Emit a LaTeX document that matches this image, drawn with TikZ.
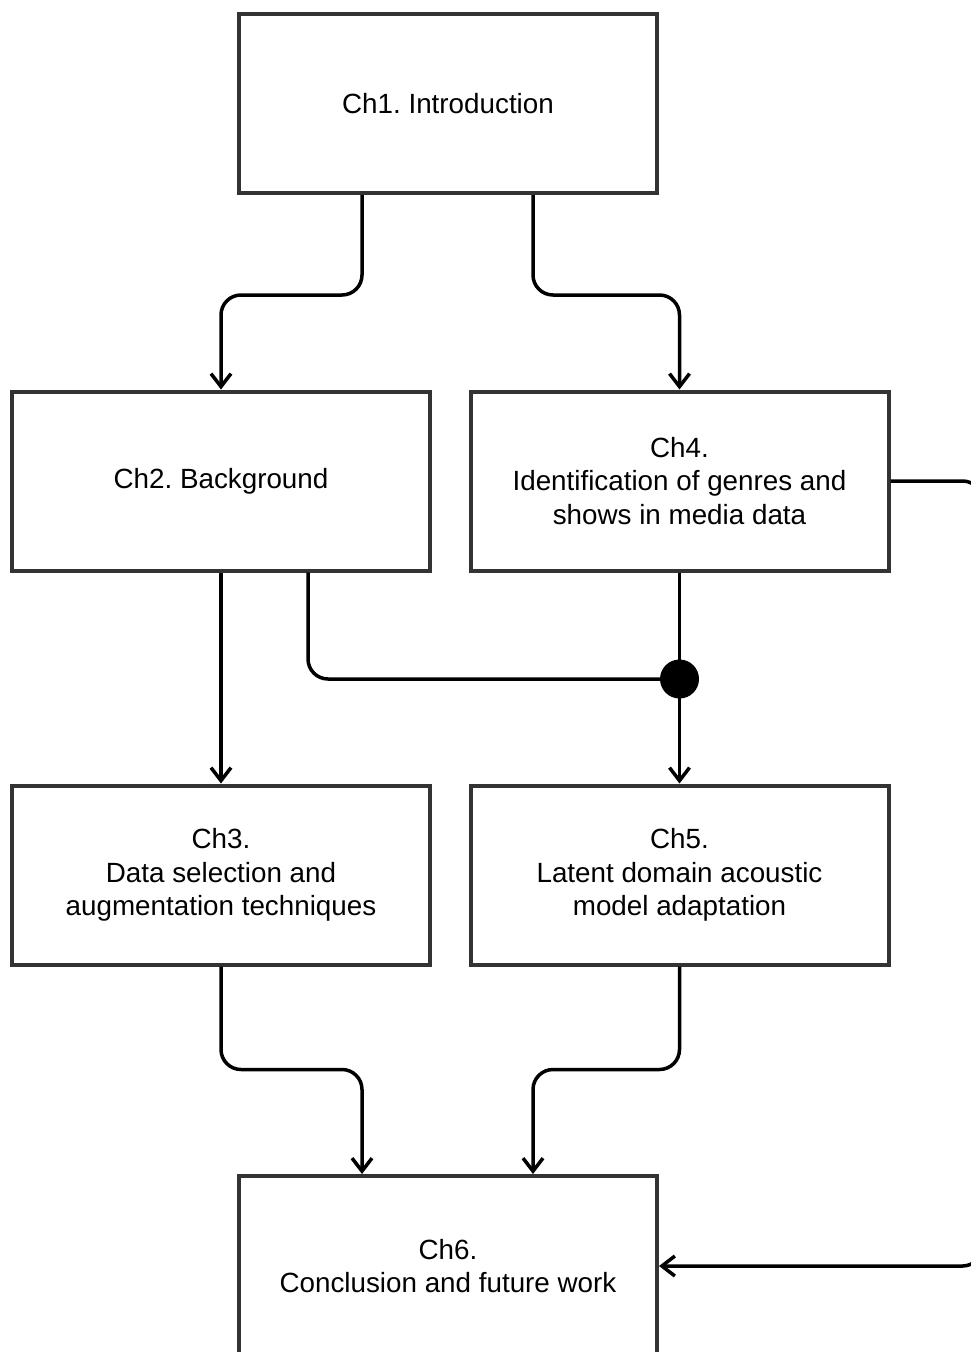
\documentclass[tikz,border=0pt]{standalone}
\usepackage{fontspec}
\setmainfont{Liberation Sans}
\usetikzlibrary{arrows.meta,calc}
\definecolor{boxline}{HTML}{333333}
\frenchspacing
\begin{document}
\begin{tikzpicture}[x=1pt,y=-1pt,
  chapter/.style={draw=boxline, line width=4pt, fill=white, minimum width=418pt,
    minimum height=179pt, align=center, inner sep=0pt,
    font=\fontsize{27.8}{33.4}\selectfont},
  conn/.style={draw=black, line width=3.5pt, rounded corners=20pt,
    -{Straight Barb[length=13pt,width=20pt,line width=3.5pt]}},
  plain/.style={draw=black, line width=3.5pt, rounded corners=20pt},
  junction/.style={circle, fill=black, minimum size=39pt, inner sep=0pt}]
\useasboundingbox (0,0) rectangle (971,1352);
\clip (0,0) rectangle (971,1352);
\fill[white] (0,0) rectangle (971,1352);

% chapter boxes
\node[chapter] (ch1) at (448,103.5) {Ch1. Introduction};
\node[chapter] (ch2) at (221,481) {Ch2. Background};
\node[chapter] (ch4) at (679.5,481) {Ch4.\\Identification of genres and\\shows in media data};
\node[chapter] (ch3) at (221,875) {Ch3.\\Data selection and\\augmentation techniques};
\node[chapter] (ch5) at (679.5,875) {Ch5.\\Latent domain acoustic\\model adaptation};
\node[chapter, minimum height=180pt] (ch6) at (448,1266) {Ch6.\\Conclusion and future work};

% junction where Ch2 joins the Ch4 -> Ch5 line
\coordinate (jc) at (679.5,679);

% connectors
\draw[conn] ([xshift=-86pt]ch1.south) -- ++(0,100) -| (ch2.north);
\draw[conn] ([xshift=85pt]ch1.south) -- ++(0,100) -| (ch4.north);
\draw[conn] (ch2.south) -- (ch3.north);
\draw[plain] ([xshift=87pt]ch2.south) |- (jc);
\draw[conn] (ch4.south) -- (ch5.north);
\draw[conn] (ch3.south) -- ++(0,103) -| ([xshift=-86pt]ch6.north);
\draw[conn] (ch5.south) -- ++(0,103) -| ([xshift=85pt]ch6.north);
\draw[conn] (ch4.east) -- ++(92,0) |- (ch6.east);
\node[junction] (j) at (jc) {};
\end{tikzpicture}
\end{document}
